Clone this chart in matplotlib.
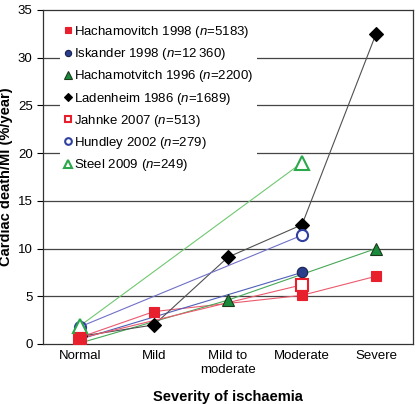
import numpy as np
import matplotlib
matplotlib.use("Agg")
import matplotlib.pyplot as plt

plt.rcParams['font.family'] = ['Liberation Sans', 'DejaVu Sans']
plt.rcParams['mathtext.fontset'] = 'custom'
plt.rcParams['mathtext.rm'] = 'Liberation Sans'
plt.rcParams['mathtext.it'] = 'Liberation Sans:italic'

categories = ["Normal", "Mild", "Mild to\nmoderate", "Moderate", "Severe"]
nan = np.nan
hach1998 = [0.7, 3.4, nan, 5.1, 7.1]
iskander1998 = [0.5, nan, nan, 7.5, nan]
hach1996 = [0.1, nan, 4.6, nan, 10.0]
laden1986 = [0.8, 2.0, 9.1, 12.5, 32.5]
jahnke2007 = [0.6, nan, nan, 6.2, nan]
hundley2002 = [1.8, nan, nan, 11.4, nan]
steel2009 = [1.9, nan, nan, 19.0, nan]

labels = [r"Hachamovitch 1998 ($n$=5183)",
          r"Iskander 1998 ($n$=12" + "\u2009" + "360)",
          r"Hachamotvitch 1996 ($n$=2200)",
          r"Ladenheim 1986 ($n$=1689)",
          r"Jahnke 2007 ($n$=513)",
          r"Hundley 2002 ($n$=279)",
          r"Steel 2009 ($n$=249)"]

series = [hach1998, iskander1998, hach1996, laden1986, jahnke2007, hundley2002, steel2009]
styles = [
    dict(marker='s', mfc='#e8202e', mec='#e8202e', color='#ea5a6e', z=6),
    dict(marker='o', mfc='#2a3f8c', mec='#1a2050', color='#5060b8', z=3),
    dict(marker='^', mfc='#1a8a3c', mec='#1a3a1a', color='#48a858', z=3),
    dict(marker='D', mfc='black', mec='black', color='#505050', z=3),
    dict(marker='s', mfc='white', mec='#e8202e', color='#ea5a6e', z=3),
    dict(marker='o', mfc='white', mec='#3040a0', color='#7070c8', z=3),
    dict(marker='^', mfc='white', mec='#2aa84a', color='#70c870', z=3),
]
msizes = [7.5, 7.5, 9, 7, 8, 8, 9.5]

fig = plt.figure(figsize=(4.16, 4.04), dpi=100)
ax = fig.add_axes([43/416, 60/404, 370/416, 334/404])

x = np.arange(len(categories))
handles = []
for s, st, lab, ms in zip(series, styles, labels, msizes):
    y = np.array(s, dtype=float)
    m = ~np.isnan(y)
    ax.plot(x[m], y[m], '-', color=st['color'], lw=0.8, zorder=2)
    h, = ax.plot(x[m], y[m], linestyle='none', marker=st['marker'], ms=ms,
                 mfc=st['mfc'], mec=st['mec'], mew=1.5 if st['mfc'] == 'white' else 0.8,
                 zorder=st['z'], label=lab)
    handles.append(h)

ax.set_xlim(-0.5, 4.5)
ax.set_ylim(0, 35)
ax.set_yticks(np.arange(0, 36, 5))
for v in range(5, 35, 5):
    ax.axhline(v, color='#444444', lw=0.9, zorder=1)
ax.set_xticks(x)
ax.set_xticklabels(categories, fontsize=9.5, linespacing=1.25)
ax.tick_params(axis='x', length=0, pad=4)
ax.tick_params(axis='y', length=4, labelsize=9.5, direction='out', width=0.8)
for sp in ax.spines.values():
    sp.set_color('#333333')
    sp.set_linewidth(0.9)

ax.set_xlabel("Severity of ischaemia", fontsize=10.5, fontweight='bold', labelpad=10)
ax.set_ylabel("Cardiac death/MI (%/year)", fontsize=10.5, fontweight='bold')
ax.yaxis.set_label_coords(-0.08, 0.5)

leg = ax.legend(handles=handles, loc='upper left', bbox_to_anchor=(0.045, 0.97), fontsize=9.5,
                frameon=True, facecolor='white', edgecolor='white', framealpha=1,
                markerscale=0.6, handlelength=0.6, handletextpad=0.15, labelspacing=0.47,
                borderaxespad=0, borderpad=0.3)
leg.get_frame().set_linewidth(0)
leg.set_zorder(7)

fig.savefig("out.png", dpi=100)
